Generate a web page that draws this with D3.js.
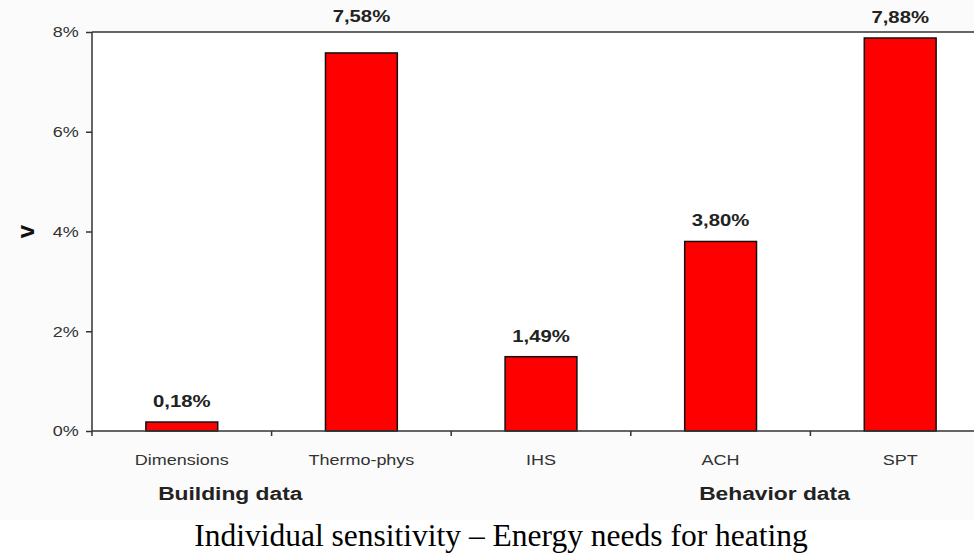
<html>
<head>
<script src="https://d3js.org/d3.v7.min.js"></script>
<style>
body { margin: 0; background: #fff; }
.axis text { font-family: Arial, "Liberation Sans", sans-serif; font-size: 15px; fill: #333; }
.axis path, .axis line { stroke: #333; stroke-width: 1.5px; }
</style>
</head>
<body>
<svg id="chart" width="974" height="553"></svg>
<script>
const categories = ['Dimensions', 'Thermo-phys', 'IHS', 'ACH', 'SPT'];
const values = [0.18, 7.58, 1.49, 3.80, 7.88];
const yTicks = [0, 2, 4, 6, 8];
const groupNames = ['Building data', 'Behavior data'];
// group label centres, in units of category slots from the left of the axis
const groupSlots = [0.77, 3.8];

const svg = d3.select('svg#chart');
const margins = {top: 32, left: 92};
const chartWidth = 898;
const chartHeight = 399;
const stretch = 'scale(1.2,1)';

svg.append('rect').attr('width', 974).attr('height', 520).attr('fill', '#fbfbfb');

const xScale = d3.scaleBand().domain(categories).range([0, chartWidth]).paddingInner(0.6).paddingOuter(0.3);
const slotScale = d3.scaleLinear().domain([0, categories.length]).range([0, chartWidth]);
const yScale = d3.scaleLinear().domain([0, 8]).range([chartHeight, 0]);

const chartArea = svg.append('g').attr('transform', `translate(${margins.left},${margins.top})`);

chartArea.append('rect').attr('width', chartWidth).attr('height', chartHeight).attr('fill', '#fff');
chartArea.append('line').attr('x1', 0).attr('x2', chartWidth).attr('y1', 0).attr('y2', 0)
    .attr('stroke', '#333').attr('stroke-width', 1.5);

chartArea.selectAll('.bar').data(values).join('rect')
    .attr('class', 'bar')
    .attr('x', (d, i) => xScale(categories[i]))
    .attr('y', d => yScale(d))
    .attr('width', xScale.bandwidth())
    .attr('height', d => chartHeight - yScale(d))
    .attr('fill', '#ff0000')
    .attr('stroke', '#111')
    .attr('stroke-width', 1.5);

// labels that would cross the top border are pushed above it
function labelY(d) {
    let y = yScale(d) - 15;
    if (y - 12 < 0 && y + 4 > 0) y = -10;
    return y;
}

chartArea.selectAll('.val').data(values).join('text')
    .attr('class', 'val')
    .attr('transform', (d, i) => `translate(${xScale(categories[i]) + xScale.bandwidth() / 2},${labelY(d)}) scale(1.27,1)`)
    .attr('text-anchor', 'middle')
    .attr('font-family', 'Arial, "Liberation Sans", sans-serif')
    .attr('font-weight', 'bold')
    .attr('font-size', 16)
    .attr('fill', '#222')
    .text(d => d.toFixed(2).replace('.', ',') + '%');

const leftAxis = d3.axisLeft(yScale).tickValues(yTicks).tickSize(6).tickPadding(5).tickFormat(d => d + '%');
const yAxisG = chartArea.append('g').attr('class', 'axis').call(leftAxis);
yAxisG.select('.domain').remove();
yAxisG.append('line').attr('y1', 0).attr('y2', chartHeight);
yAxisG.selectAll('.tick text').attr('transform', stretch);

// x axis with ticks on band boundaries
const xAxisG = chartArea.append('g').attr('class', 'axis').attr('transform', `translate(0,${chartHeight})`);
xAxisG.append('line').attr('x1', 0).attr('x2', chartWidth);
xAxisG.selectAll('.tk').data(d3.range(categories.length + 1)).join('line')
    .attr('class', 'tk')
    .attr('x1', i => slotScale(i)).attr('x2', i => slotScale(i))
    .attr('y1', 0).attr('y2', 5);
xAxisG.selectAll('.lbl').data(categories).join('text')
    .attr('class', 'lbl')
    .attr('transform', d => `translate(${xScale(d) + xScale.bandwidth() / 2},34) ${stretch}`)
    .attr('text-anchor', 'middle')
    .attr('font-size', 14)
    .text(d => d);

chartArea.selectAll('.grp').data(groupNames).join('text')
    .attr('class', 'grp')
    .attr('transform', (g, i) => `translate(${slotScale(groupSlots[i])},${chartHeight + 69}) ${stretch}`)
    .attr('text-anchor', 'middle')
    .attr('font-family', 'Arial, "Liberation Sans", sans-serif')
    .attr('font-weight', 'bold')
    .attr('font-size', 19)
    .attr('fill', '#222')
    .text(g => g);

svg.append('text')
    .attr('transform', `translate(34,${margins.top + yScale(4)}) rotate(-90)`)
    .attr('text-anchor', 'middle')
    .attr('font-family', 'Arial, "Liberation Sans", sans-serif')
    .attr('font-weight', 'bold')
    .attr('font-size', 24)
    .attr('fill', '#111')
    .text('v');

svg.append('text')
    .attr('x', 501)
    .attr('y', 546)
    .attr('text-anchor', 'middle')
    .attr('font-family', '"Liberation Serif", "Times New Roman", serif')
    .attr('font-size', 31.5)
    .attr('fill', '#000')
    .text('Individual sensitivity – Energy needs for heating');
</script>
</body>
</html>
